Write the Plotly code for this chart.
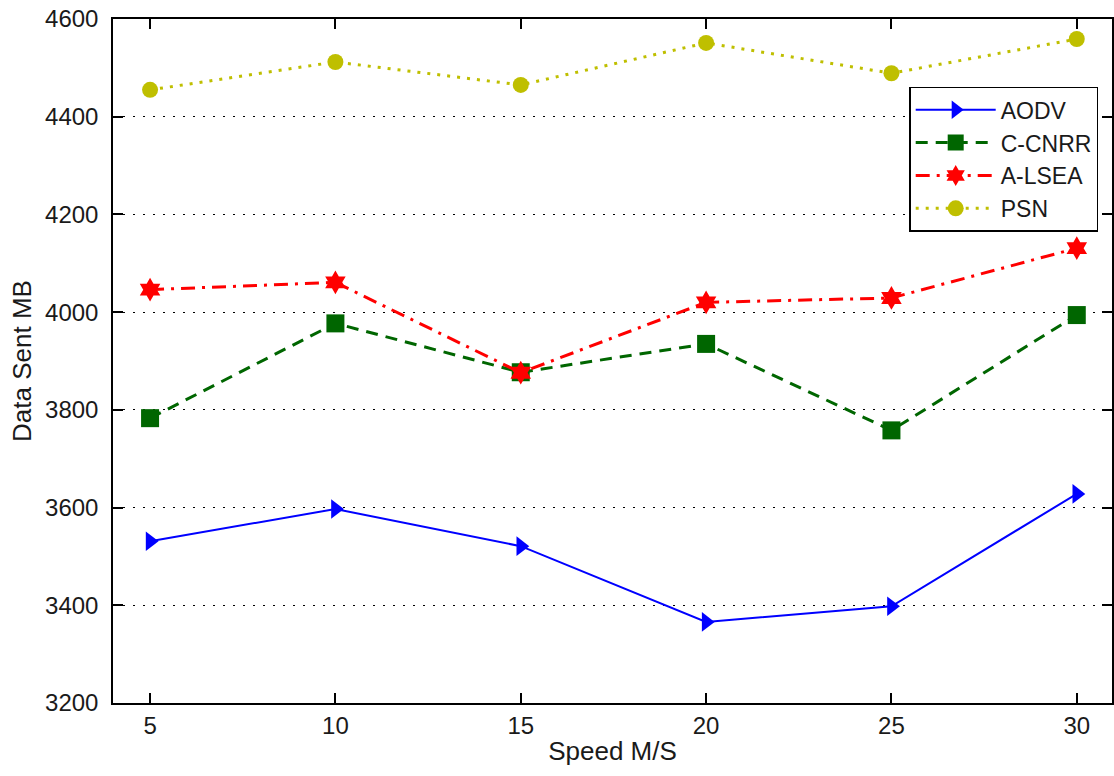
import plotly.graph_objects as go

# Mobility speed (m/s) and data sent (MB) per protocol
speed = [5, 10, 15, 20, 25, 30]
aodv = [3531, 3597, 3521, 3366, 3398, 3628]
c_cnrr = [3783, 3977, 3877, 3935, 3758, 3994]
a_lsea = [4046, 4061, 3876, 4020, 4029, 4131]
psn = [4455, 4512, 4465, 4551, 4489, 4559]

x_ticks = [5, 10, 15, 20, 25, 30]
y_ticks = [3200, 3400, 3600, 3800, 4000, 4200, 4400, 4600]

FONT = "Liberation Sans, Arial, sans-serif"
TEXT = "#1a1a1a"

fig = go.Figure()

fig.add_trace(go.Scatter(
    x=speed, y=aodv, name="AODV", mode="lines+markers",
    line=dict(color="#0000FF", width=2, dash="solid"),
    marker=dict(symbol="triangle-right", size=17, color="#0000FF"),
))
fig.add_trace(go.Scatter(
    x=speed, y=c_cnrr, name="C-CNRR", mode="lines+markers",
    line=dict(color="#006600", width=3, dash="12px,8px"),
    marker=dict(symbol="square", size=18, color="#006600"),
))
fig.add_trace(go.Scatter(
    x=speed, y=a_lsea, name="A-LSEA", mode="lines+markers",
    line=dict(color="#FF0000", width=3, dash="14px,7px,3px,7px"),
    marker=dict(symbol="hexagram", size=18, color="#FF0000"),
))
fig.add_trace(go.Scatter(
    x=speed, y=psn, name="PSN", mode="lines+markers",
    line=dict(color="#BFBF00", width=3, dash="3px,7px"),
    marker=dict(symbol="circle", size=16, color="#BFBF00"),
))

axis_common = dict(
    showline=True, linecolor="black", linewidth=1.5, mirror="ticks",
    ticks="inside", ticklen=10, tickwidth=1.5, tickcolor="black",
    tickfont=dict(family=FONT, size=24, color=TEXT),
    zeroline=False,
)

fig.update_layout(
    width=1114, height=776,
    margin=dict(l=113, r=0, t=19, b=73),
    paper_bgcolor="white", plot_bgcolor="white",
    font=dict(family=FONT, size=23, color=TEXT),
    showlegend=True,
    legend=dict(
        x=0.797, y=0.901, xanchor="left", yanchor="top",
        bgcolor="white", bordercolor="black", borderwidth=1.5,
        font=dict(family=FONT, size=23, color=TEXT),
        tracegroupgap=0, itemwidth=80,
    ),
    xaxis=dict(
        range=[4, 30.95], tickvals=x_ticks, ticktext=[str(v) for v in x_ticks],
        showgrid=False, ticklabelstandoff=0,
        title=dict(text="Speed M/S", font=dict(family=FONT, size=26, color=TEXT), standoff=4),
        **axis_common,
    ),
    yaxis=dict(
        range=[3200, 4600], tickvals=y_ticks, ticktext=[str(v) for v in y_ticks],
        showgrid=True, gridcolor="black", gridwidth=1, griddash="1.5px,8.5px",
        ticklabelstandoff=8,
        title=dict(text="Data Sent MB", font=dict(family=FONT, size=26, color=TEXT), standoff=6),
        **axis_common,
    ),
)

fig.write_html("out.html")
